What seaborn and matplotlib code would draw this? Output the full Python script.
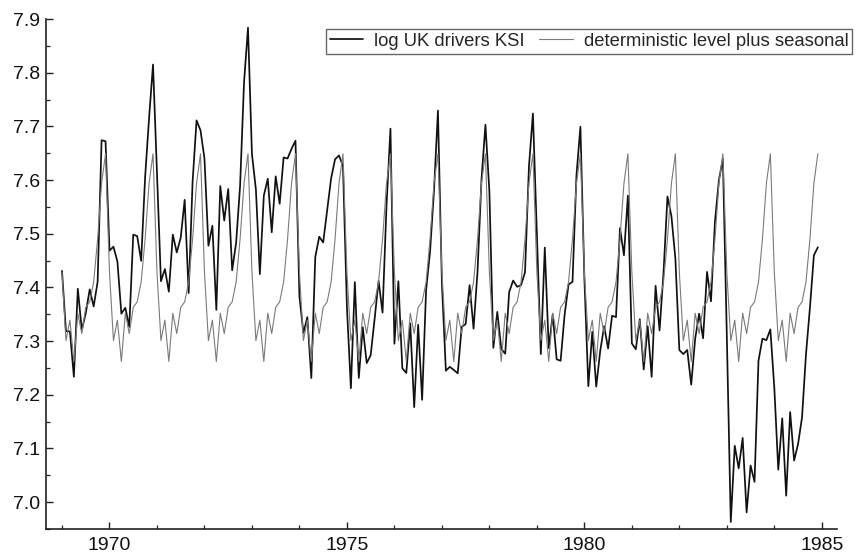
import numpy as np
import pandas as pd
import matplotlib
matplotlib.use("Agg")
import matplotlib.pyplot as plt
from matplotlib.ticker import MultipleLocator, FuncFormatter
import seaborn as sns

# ---- data -------------------------------------------------------------
start_year = 1969
n_years = 16

# monthly UK drivers killed or seriously injured (counts), Jan 1969 - Dec 1984
ksi_counts = [
    1687, 1508, 1507, 1385, 1632, 1511, 1559, 1630, 1579, 1653, 2152, 2148,
    1752, 1765, 1717, 1558, 1575, 1520, 1805, 1800, 1719, 2008, 2242, 2478,
    2030, 1655, 1693, 1623, 1805, 1746, 1795, 1926, 1619, 1992, 2233, 2192,
    2080, 1768, 1835, 1569, 1976, 1853, 1965, 1689, 1778, 1976, 2397, 2654,
    2097, 1963, 1677, 1941, 2003, 1813, 2012, 1912, 2084, 2080, 2118, 2150,
    1608, 1503, 1548, 1382, 1731, 1798, 1779, 1887, 2004, 2077, 2092, 2051,
    1577, 1356, 1652, 1382, 1519, 1421, 1442, 1543, 1656, 1561, 1905, 2199,
    1473, 1655, 1407, 1395, 1530, 1309, 1526, 1327, 1627, 1748, 1958, 2274,
    1648, 1401, 1411, 1403, 1394, 1520, 1528, 1643, 1515, 1685, 2000, 2215,
    1956, 1462, 1563, 1459, 1446, 1622, 1657, 1638, 1643, 1683, 2050, 2262,
    1813, 1445, 1762, 1461, 1556, 1431, 1427, 1554, 1645, 1653, 2016, 2207,
    1665, 1361, 1506, 1360, 1453, 1522, 1460, 1552, 1548, 1827, 1737, 1941,
    1474, 1458, 1542, 1404, 1522, 1385, 1641, 1510, 1681, 1938, 1868, 1726,
    1456, 1445, 1456, 1365, 1487, 1558, 1488, 1684, 1594, 1850, 1998, 2079,
    1494, 1057, 1218, 1168, 1236, 1076, 1174, 1139, 1427, 1487, 1483, 1513,
    1357, 1165, 1282, 1110, 1297, 1185, 1222, 1284, 1444, 1575, 1737, 1763,
]

# fitted deterministic level plus seasonal, Jan..Dec (same every year)
level_plus_seasonal = [7.428, 7.301, 7.339, 7.262, 7.352, 7.314,
                       7.363, 7.373, 7.410, 7.490, 7.594, 7.649]

label_data = "log UK drivers KSI"
label_fit = "deterministic level plus seasonal"

# ---- build frame -------------------------------------------------------
n = len(ksi_counts)
time = start_year + np.arange(n) / 12.0
df = pd.DataFrame({
    "time": time,
    "log_ksi": np.log(np.array(ksi_counts, dtype=float)),
    "fit": np.tile(level_plus_seasonal, n_years),
})

# ---- style -------------------------------------------------------------
sns.set_theme(style="ticks")
plt.rcParams["font.family"] = ["Liberation Sans", "DejaVu Sans"]

fig = plt.figure(figsize=(8.57, 5.54), dpi=100)
ax = fig.add_axes([46 / 857, 1 - 529 / 554, (837 - 46) / 857, (529 - 19) / 554])

sns.lineplot(data=df, x="time", y="log_ksi", ax=ax, color="#111111",
             linewidth=1.25, label=label_data)
sns.lineplot(data=df, x="time", y="fit", ax=ax, color="#7a7a7a",
             linewidth=0.8, label=label_fit)

ax.set_xlim(1968.663, 1985.32)
ax.set_ylim(6.95, 7.9)
ax.set_xlabel("")
ax.set_ylabel("")

ax.xaxis.set_major_locator(MultipleLocator(5))
ax.xaxis.set_minor_locator(MultipleLocator(1))
ax.yaxis.set_major_locator(MultipleLocator(0.1))
ax.yaxis.set_minor_locator(MultipleLocator(0.05))
ax.xaxis.set_major_formatter(FuncFormatter(lambda v, p: f"{int(round(v))}"))
ax.yaxis.set_major_formatter(FuncFormatter(lambda v, p: f"{v:.1f}"))

ax.tick_params(axis="both", which="major", direction="in", length=5, width=1.0,
               labelsize=14, color="#222222", labelcolor="#111111")
ax.tick_params(axis="both", which="minor", direction="in", length=2.8, width=0.9,
               color="#222222")
ax.tick_params(axis="x", which="major", pad=6)
ax.tick_params(axis="y", which="major", pad=4.5)

for side in ("top", "right"):
    ax.spines[side].set_visible(False)
for side in ("left", "bottom"):
    ax.spines[side].set_linewidth(1.2)
    ax.spines[side].set_color("#222222")

leg = ax.legend(loc="upper right", bbox_to_anchor=(1.019, 0.98), ncol=2,
                frameon=True, fancybox=False, framealpha=1, fontsize=13.3,
                handlelength=1.8, handletextpad=0.6, columnspacing=0.8,
                borderpad=0.2, borderaxespad=0.0)
leg.get_frame().set_edgecolor("#666666")
leg.get_frame().set_linewidth(1.0)

fig.savefig("out.png", dpi=100)
